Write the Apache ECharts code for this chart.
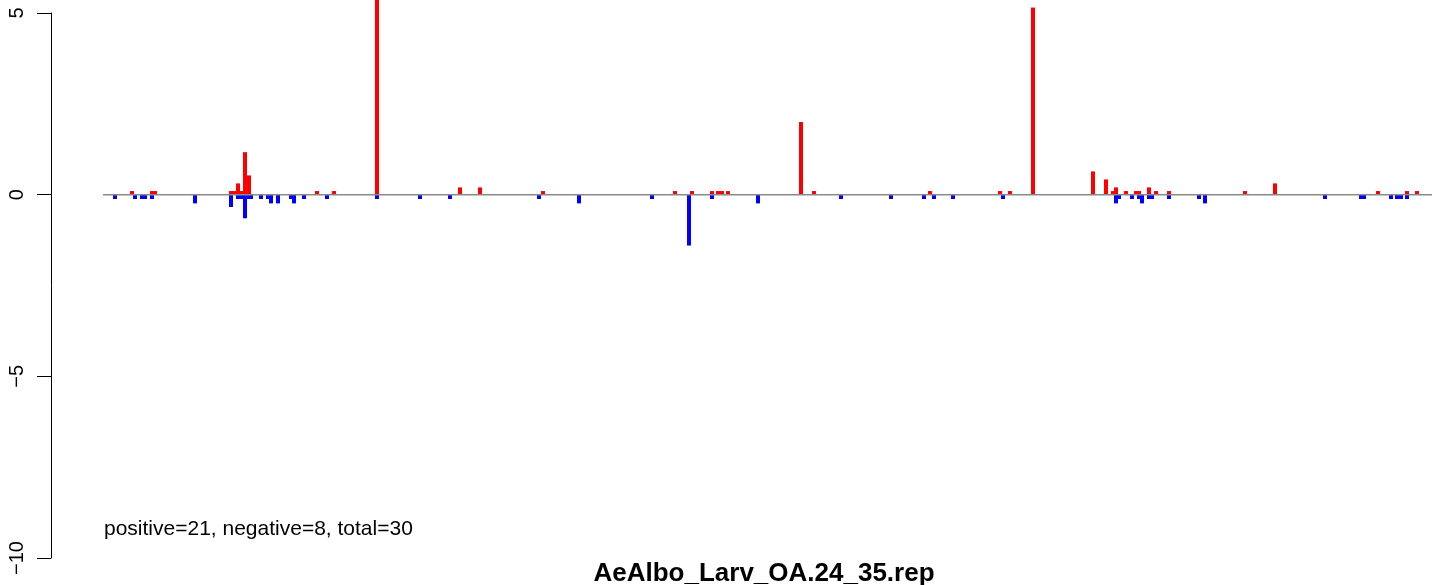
<!DOCTYPE html>
<html><head><meta charset="utf-8">
<script src="https://cdn.jsdelivr.net/npm/echarts@6/dist/echarts.min.js"></script>
<style>html,body{margin:0;padding:0;background:#fff}#c{width:1444px;height:585px}</style>
</head><body><div id="c"></div>
<script>
// positions along the track (offset units from start of baseline)
const posPositions = [29,49,52,128,131,135,138,142,146,214,231,274,357,377,440,572,589,609,615,619,625,698,711,827,897,907,930,990,1003,1010,1013,1023,1033,1036,1046,1053,1066,1142,1172,1275,1304,1314];
const posValues    = [0.1,0.1,0.1,0.1,0.1,0.31,0.1,1.17,0.53,0.1,0.1,6.5,0.2,0.2,0.1,0.1,0.1,0.1,0.1,0.1,0.1,2.0,0.1,0.1,0.1,0.1,5.15,0.64,0.42,0.1,0.2,0.1,0.1,0.1,0.2,0.1,0.1,0.1,0.31,0.1,0.1,0.1];
const negPositions = [12,32,39,42,49,92,128,135,138,142,146,148,158,165,168,175,188,191,201,224,274,317,347,436,476,549,586,609,655,738,788,821,831,850,900,1013,1016,1029,1036,1039,1046,1049,1066,1096,1102,1222,1258,1261,1288,1294,1298,1304];
const negValues    = [-0.12,-0.12,-0.12,-0.12,-0.12,-0.24,-0.34,-0.12,-0.12,-0.65,-0.12,-0.12,-0.12,-0.12,-0.24,-0.24,-0.12,-0.24,-0.12,-0.12,-0.12,-0.12,-0.12,-0.12,-0.24,-0.12,-1.4,-0.12,-0.24,-0.12,-0.12,-0.12,-0.12,-0.12,-0.12,-0.24,-0.12,-0.12,-0.12,-0.24,-0.12,-0.12,-0.12,-0.12,-0.24,-0.12,-0.12,-0.12,-0.12,-0.12,-0.12,-0.12];
const trackRange = [0, 1329];
const yTicks = [-10, -5, 0, 5];
const titleText = 'AeAlbo_Larv_OA.24_35.rep';
const noteText = 'positive=21, negative=8, total=30';

const font = '"Liberation Sans", Arial, Helvetica, sans-serif';
const chart = echarts.init(document.getElementById('c'), null, {renderer:'canvas'});
chart.setOption({
  animation: false,
  backgroundColor: '#fff',
  grid: {left: 103, right: 12, top: 13, bottom: 27, containLabel: false},
  xAxis: {type: 'value', min: trackRange[0], max: trackRange[1], show: false},
  yAxis: {
    type: 'value', min: yTicks[0], max: yTicks[yTicks.length-1], interval: 5,
    offset: 52,
    axisLine: {show: true, onZero: false, lineStyle: {color: '#000', width: 1}},
    axisTick: {show: true, length: 14, lineStyle: {color: '#000', width: 1}},
    splitLine: {show: false},
    axisLabel: {
      rotate: 90, margin: 24, color: '#000', fontSize: 20, fontFamily: font,
      formatter: v => String(v).replace('-', '\u2212')
    }
  },
  series: [
    {type: 'bar', stack: 's', barWidth: 4, clip: false, itemStyle: {color: '#ff0000'},
     data: posPositions.map((p, i) => [p, posValues[i]])},
    {type: 'bar', stack: 's', barWidth: 4, clip: false, itemStyle: {color: '#0000ff'},
     data: negPositions.map((p, i) => [p, negValues[i]])},
    {type: 'line', symbol: 'none', z: 5, lineStyle: {color: '#8a8a8a', width: 1.5},
     data: [[trackRange[0], 0], [trackRange[1], 0]]}
  ],
  graphic: [
    {type: 'text', x: 104, y: 529, style: {text: noteText, font: '21px ' + font, fill: '#000', align: 'left', verticalAlign: 'middle'}},
    {type: 'text', x: 764, y: 574, style: {text: titleText, font: 'bold 26px ' + font, fill: '#000', align: 'center', verticalAlign: 'middle'}}
  ]
});
</script></body></html>
